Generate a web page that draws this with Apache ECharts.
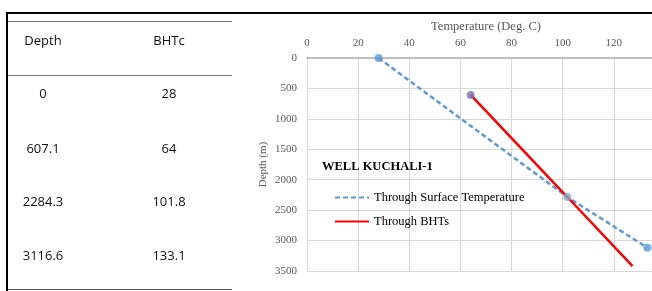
<!DOCTYPE html>
<html>
<head>
<meta charset="utf-8">
<script src="https://cdn.jsdelivr.net/npm/echarts@6/dist/echarts.min.js"></script>
<style>
  html, body { margin: 0; padding: 0; background: #fff; }
  #wrap { position: relative; width: 652px; height: 291px; overflow: hidden; }
  #chart { position: absolute; left: 0; top: 0; width: 652px; height: 291px; }
  .ln { position: absolute; }
  .cell { position: absolute; font-family: "Open Sans", sans-serif; font-size: 13px; color: #111; transform: translate(-50%, -50%); white-space: nowrap; }
</style>
</head>
<body>
<div id="wrap">
  <div id="chart"></div>
  <div id="table"></div>
</div>
<script>
// table values
const tableHeader = ['Depth', 'BHTc'];
const depthCol = ['0', '607.1', '2284.3', '3116.6'];
const bhtcCol = ['28', '64', '101.8', '133.1'];

// chart values (temperature in deg C, depth in m)
const surfTemp = [28, 101.8, 133.1];
const surfDepth = [0, 2284.3, 3116.6];
const bhtTemp = [64, 101.8, 127.3];
const bhtDepth = [607.1, 2284.3, 3420];

// --- table on the left ---
const tbl = document.getElementById('table');
function line(x, y, w, h, c) {
  const d = document.createElement('div');
  d.className = 'ln';
  d.style.cssText = `left:${x}px;top:${y}px;width:${w}px;height:${h}px;background:${c}`;
  tbl.appendChild(d);
}
function cell(x, y, t) {
  const d = document.createElement('div');
  d.className = 'cell';
  d.style.left = x + 'px';
  d.style.top = y + 'px';
  d.textContent = t;
  tbl.appendChild(d);
}
line(6, 12, 646, 2, '#000');
line(6, 12, 2, 279, '#000');
line(8, 21, 224, 1, '#777');
line(8, 75, 224, 1, '#777');
line(8, 289, 224, 1, '#555');
cell(43, 40, tableHeader[0]);
cell(169, 40, tableHeader[1]);
const rowY = [93, 148, 201, 255];
depthCol.forEach((v, i) => {
  cell(43, rowY[i], v);
  cell(169, rowY[i], bhtcCol[i]);
});

// --- chart ---
const chart = echarts.init(document.getElementById('chart'));
const serif = '"Liberation Serif", "Times New Roman", serif';
const surfData = surfTemp.map((t, i) => [t, surfDepth[i]]);
const bhtData = bhtTemp.map((t, i) => [t, bhtDepth[i]]);

const option = {
  animation: false,
  title: {
    text: 'WELL KUCHALI-1',
    left: 317,
    top: 155,
    textStyle: { fontFamily: serif, fontSize: 12.5, fontWeight: 'bold', color: '#000' }
  },
  legend: {
    data: ['Through Surface Temperature', 'Through BHTs'],
    orient: 'vertical',
    left: 334,
    top: 191,
    padding: 0,
    itemWidth: 34,
    itemHeight: 14,
    itemGap: 11,
    itemStyle: { opacity: 0 },
    textStyle: { fontFamily: serif, fontSize: 12.5, color: '#000' }
  },
  grid: { left: 307, top: 58, width: 358, height: 213, containLabel: false, outerBoundsMode: 'none' },
  xAxis: {
    type: 'value',
    position: 'top',
    min: 0,
    max: 140,
    interval: 20,
    name: 'Temperature (Deg. C)',
    nameLocation: 'middle',
    nameGap: 25,
    nameTextStyle: { fontFamily: serif, fontSize: 12.5, color: '#595959' },
    axisLine: { show: true, onZero: false, lineStyle: { color: '#bfbfbf', width: 2 } },
    axisTick: { show: false },
    axisLabel: { fontFamily: serif, fontSize: 11, color: '#595959', margin: 9 },
    splitLine: { show: true, lineStyle: { color: '#d9d9d9', width: 1 } }
  },
  yAxis: {
    type: 'value',
    inverse: true,
    min: 0,
    max: 3500,
    interval: 500,
    name: 'Depth (m)',
    nameLocation: 'middle',
    nameGap: 38,
    nameMoveOverlap: false,
    nameTextStyle: { fontFamily: serif, fontSize: 11, color: '#595959' },
    axisLine: { show: false },
    axisTick: { show: false },
    axisLabel: { fontFamily: serif, fontSize: 11, color: '#595959', margin: 10,
      formatter: v => String(v) },
    splitLine: { show: true, lineStyle: { color: '#d9d9d9', width: 1 } }
  },
  series: [
    {
      name: 'Through Surface Temperature',
      type: 'line',
      data: surfData,
      symbol: 'none',
      color: '#5b9bd5',
      lineStyle: { color: '#5b9bd5', width: 2.5, type: [5, 3] },
      z: 2
    },
    {
      name: 'Through BHTs',
      type: 'line',
      data: bhtData,
      symbol: 'none',
      color: '#ff0000',
      lineStyle: { color: '#ff0000', width: 2.5 },
      z: 3
    },
    {
      name: 'surf-pts',
      type: 'scatter',
      data: surfData.map((d, i) => ({
        value: d,
        itemStyle: { color: i === 1 ? '#86aac4' : '#5b9bd5' }
      })),
      symbolSize: 8,
      z: 4
    },
    {
      name: 'bht-pts',
      type: 'scatter',
      data: [bhtData[0]],
      symbolSize: 8,
      itemStyle: { color: '#7a73b0' },
      z: 4
    }
  ]
};
chart.setOption(option);
</script>
</body>
</html>
